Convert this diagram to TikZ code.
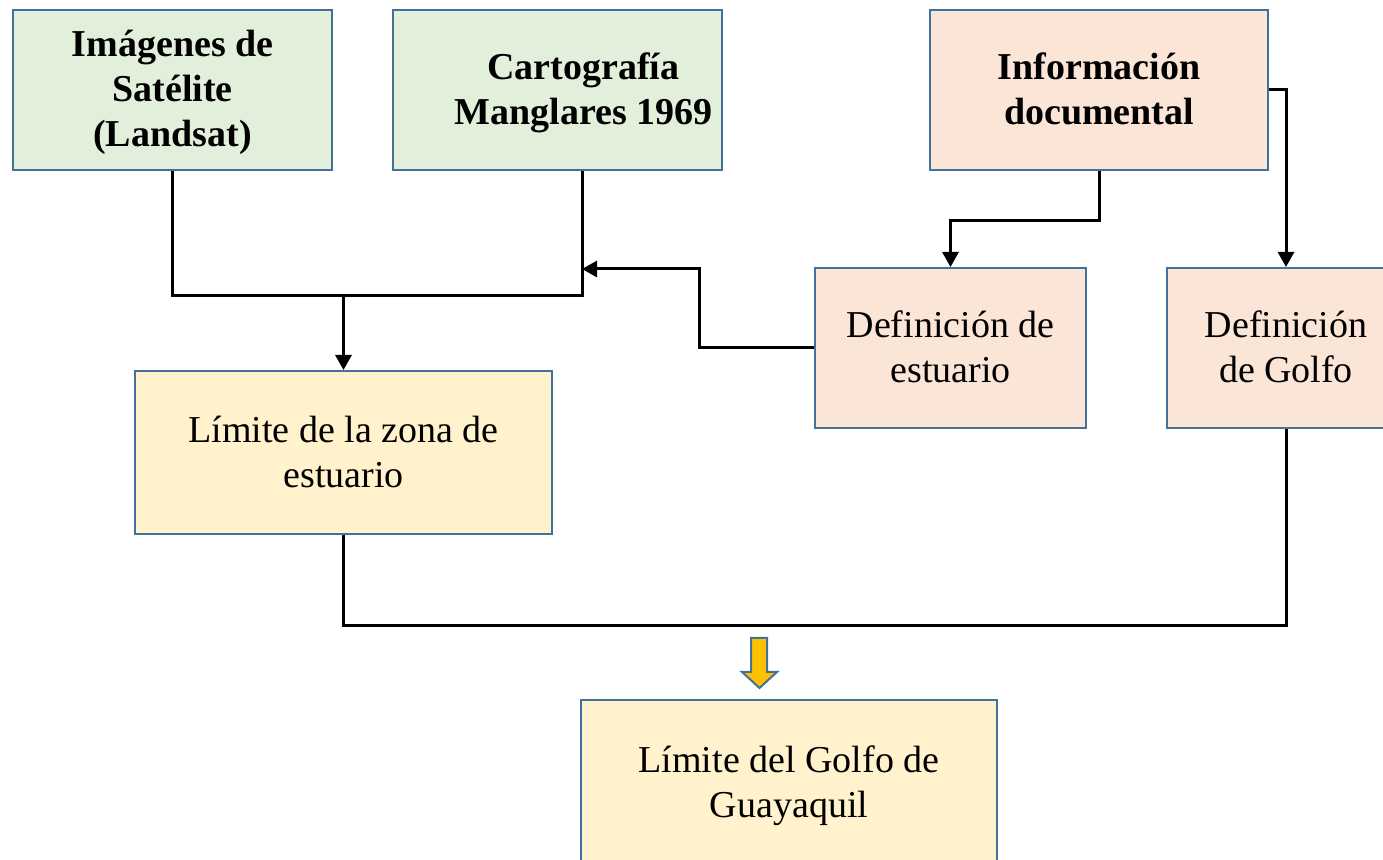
\documentclass[tikz,border=0pt]{standalone}
\usepackage{fontspec}
\setmainfont{Liberation Serif}
\usepackage{tikz}
\usetikzlibrary{calc,positioning,arrows,arrows.meta,shapes}
\definecolor{boxline}{HTML}{41719C}
\definecolor{fillGreen}{HTML}{E2EFDA}
\definecolor{fillPeach}{HTML}{FBE5D6}
\definecolor{fillYellow}{HTML}{FFF2CC}
\definecolor{arrowGold}{HTML}{FFC000}
\tikzstyle{arrow} = [line width=1.5pt,-{Triangle[length=7.5pt,width=8pt]}]
\tikzstyle{line} = [line width=1.5pt]
\tikzstyle{blockArrow} = [draw=boxline, fill=arrowGold, line width=1pt, line join=miter]

\begin{document}
\begin{tikzpicture}[x=0.5pt,y=-0.5pt]
\tikzset{%
	box/.style = { rectangle, draw=boxline, line width=1pt, minimum height=80pt, align=center, inner sep=0pt, text height=39pt, text depth=4pt, font=\fontsize{19pt}{22.5pt}\selectfont },
	source/.style = { box, fill=fillGreen, font=\fontsize{19pt}{22.5pt}\selectfont\bfseries },
	document/.style = { box, fill=fillPeach },
	result/.style = { box, fill=fillYellow, minimum height=81.5pt }
}
\useasboundingbox (0,0) rectangle (1383,860);

\node(Satelite)		[source, minimum width=159.5pt, text height=61pt] at (172.5,90)
								{Imágenes de\\Satélite\\(Landsat)};
\node(Cartografia)	[source, minimum width=164.5pt, right=29.5pt of Satelite.east]
								{\hspace*{26pt}Cartografía\\\hspace*{26pt}Manglares 1969};
\node(Informacion)	[source, document, font=\fontsize{19pt}{22.5pt}\selectfont\bfseries, minimum width=169pt] at (1099,90)
								{Información\\documental};

\node(Estuario)		[document, minimum width=135.5pt] at (950.5,348)
								{Definición de\\estuario};
\node(Golfo)			[document, minimum width=119pt] at (1286,348)
								{Definición\\de Golfo};

\node(Limite)			[result, minimum width=208.5pt] at (343.5,452.5)
								{Límite de la zona de\\estuario};
\node(LimiteGolfo)	[result, minimum width=208pt, minimum height=83pt] at (789,783)
								{Límite del Golfo de\\Guayaquil};

\coordinate (JoinTop)	at (582,296);
\coordinate (Bend)		at (699,269);
\coordinate (ArrowTip)	at (759.5,688);

\draw [line]		(Satelite.south) |- (JoinTop) -- (JoinTop |- Cartografia.south);
\draw [arrow]	(Limite.north |- JoinTop) -- (Limite.north);
\draw [arrow]	(Estuario.west) -| (Bend) -- (Bend -| JoinTop);

\draw [arrow]	(Informacion.south) -- ++(0,50) -| (Estuario.north);
\draw [arrow]	(Informacion.east) -| (Golfo.north);

\draw [line]		(Limite.south) -- ++(0,91) -| (Golfo.south);

\draw [blockArrow]	(ArrowTip) -- ++(17.5,-16) -- ++(-10,0) -- ++(0,-34) -- ++(-16,0)
						-- ++(0,34) -- ++(-9,0) -- cycle;

\end{tikzpicture}
\end{document}
